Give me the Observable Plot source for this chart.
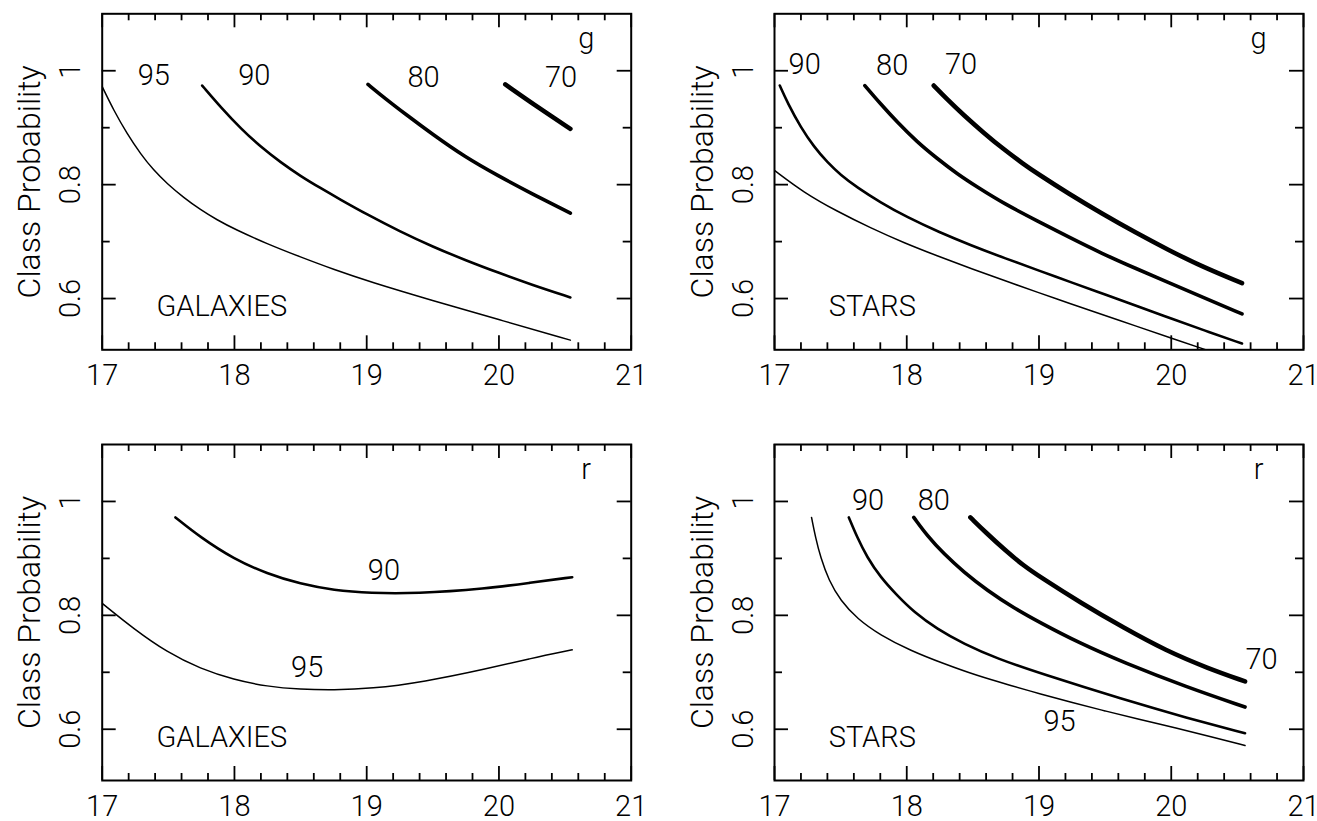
<!DOCTYPE html>
<html>
<head>
<meta charset="utf-8">
<script src="https://cdn.jsdelivr.net/npm/d3@7"></script>
<script src="https://cdn.jsdelivr.net/npm/@observablehq/plot@0.6"></script>
<style>
  html, body { margin: 0; padding: 0; background: #fff; }
  #fig { display: grid; grid-template-columns: 658px 659px; grid-template-rows: 410px 411px; width: 1317px; height: 821px; }
  #fig svg { display: block; overflow: visible; }
</style>
</head>
<body>
<div id="fig"></div>
<script>
// Class-probability threshold curves versus magnitude, one curve per completeness level.
// Each curve: [magnitude, class probability].

// g band, galaxies
const galG95 = [[17.00,0.972],[17.088,0.930],[17.189,0.889],[17.29,0.854],[17.39,0.825],[17.49,0.802],[17.617,0.777],[17.743,0.756],[17.869,0.738],[18.0,0.722],[18.247,0.696],[18.499,0.673],[18.751,0.651],[19.03,0.629],[19.49,0.597],[20.0,0.563],[20.54,0.527]];
const galG90 = [[17.756,0.974],[17.9,0.935],[18.05,0.898],[18.2,0.866],[18.35,0.839],[18.5,0.815],[18.65,0.794],[18.8,0.774],[19.0,0.748],[19.25,0.718],[19.5,0.691],[19.75,0.667],[20.0,0.645],[20.25,0.624],[20.54,0.602]];
const galG80 = [[19.01,0.976],[19.141,0.951],[19.292,0.924],[19.494,0.889],[19.746,0.848],[19.998,0.815],[20.25,0.784],[20.54,0.750]];
const galG70 = [[20.048,0.976],[20.30,0.935],[20.54,0.898]];

// g band, stars
const starG95 = [[17.0,0.825],[17.222,0.786],[17.474,0.753],[17.726,0.724],[17.978,0.698],[18.23,0.675],[18.481,0.653],[18.733,0.632],[18.99,0.611],[19.225,0.592],[19.477,0.572],[19.729,0.552],[19.981,0.532],[20.30,0.507]];
const starG90 = [[17.04,0.974],[17.1,0.943],[17.2,0.900],[17.3,0.866],[17.4,0.839],[17.5,0.817],[17.625,0.795],[17.8,0.769],[18.0,0.743],[18.25,0.716],[18.48,0.694],[18.75,0.670],[19.0,0.649],[19.25,0.628],[19.5,0.607],[19.75,0.586],[20.0,0.565],[20.25,0.544],[20.535,0.521]];
const starG80 = [[17.683,0.974],[17.801,0.942],[17.927,0.910],[18.078,0.875],[18.229,0.846],[18.381,0.819],[18.532,0.796],[18.733,0.767],[18.99,0.736],[19.225,0.708],[19.477,0.679],[19.729,0.653],[19.981,0.628],[20.233,0.603],[20.535,0.573]];
const starG70 = [[18.204,0.974],[18.305,0.950],[18.431,0.922],[18.582,0.891],[18.733,0.862],[18.884,0.836],[18.99,0.819],[19.225,0.784],[19.477,0.749],[19.729,0.716],[19.981,0.685],[20.233,0.656],[20.535,0.627]];

// r band, galaxies
const galR95 = [[17.0,0.821],[17.239,0.776],[17.491,0.735],[17.743,0.706],[17.995,0.687],[18.247,0.675],[18.499,0.670],[18.751,0.669],[19.03,0.671],[19.43,0.683],[19.91,0.706],[20.23,0.724],[20.554,0.7395]];
const galR90 = [[17.554,0.972],[17.743,0.937],[17.995,0.899],[18.247,0.873],[18.499,0.855],[18.751,0.844],[19.03,0.839],[19.365,0.838],[19.91,0.847],[20.23,0.857],[20.554,0.867]];

// r band, stars
const starR95 = [[17.28,0.972],[17.31,0.937],[17.348,0.902],[17.411,0.861],[17.499,0.826],[17.625,0.794],[17.801,0.765],[18.028,0.738],[18.28,0.715],[18.532,0.694],[18.784,0.677],[19.01,0.662],[19.25,0.647],[19.5,0.632],[19.75,0.618],[20.04,0.602],[20.3,0.587],[20.558,0.5715]];
const starR90 = [[17.562,0.972],[17.625,0.937],[17.70,0.902],[17.801,0.867],[17.927,0.835],[18.053,0.806],[18.229,0.776],[18.431,0.750],[18.683,0.724],[19.01,0.698],[19.641,0.652],[20.118,0.620],[20.558,0.593]];
const starR80 = [[18.053,0.972],[18.154,0.94],[18.28,0.908],[18.431,0.876],[18.607,0.844],[18.809,0.813],[19.01,0.787],[19.3,0.752],[19.641,0.717],[20.118,0.674],[20.558,0.639]];
const starR70 = [[18.481,0.972],[18.6,0.945],[18.75,0.913],[18.88,0.888],[19.004,0.868],[19.322,0.821],[19.641,0.778],[19.959,0.738],[20.277,0.707],[20.558,0.684]];

// Curve annotations (percent levels) in data coordinates
const galGLabels = [{text: "95", x: 17.39, y: 0.991}, {text: "90", x: 18.15, y: 0.991}, {text: "80", x: 19.43, y: 0.987}, {text: "70", x: 20.47, y: 0.987}];
const starGLabels = [{text: "90", x: 17.228, y: 1.011}, {text: "80", x: 17.89, y: 1.008}, {text: "70", x: 18.41, y: 1.011}];
const galRLabels = [{text: "90", x: 19.13, y: 0.879}, {text: "95", x: 18.55, y: 0.708}];
const starRLabels = [{text: "90", x: 17.707, y: 1.002}, {text: "80", x: 18.205, y: 1.002}, {text: "70", x: 20.683, y: 0.722}, {text: "95", x: 19.155, y: 0.614}];

// Axis ticks
const xMajor = [17, 18, 19, 20, 21];
const xMinor = [17.2, 17.4, 17.6, 17.8, 18.2, 18.4, 18.6, 18.8, 19.2, 19.4, 19.6, 19.8, 20.2, 20.4, 20.6, 20.8];
const yMajor = [0.6, 0.8, 1.0];
const yMinor = [0.7, 0.9];
const yLabels = ["0.6", "0.8", "1"];

const levelWidth = {95: 1.5, 90: 2.6, 80: 3.6, 70: 4.6};
const FONT = "Roboto, 'Liberation Sans', sans-serif";

const panels = [
  {band: "g", sample: "GALAXIES", curves: [[galG95, 95], [galG90, 90], [galG80, 80], [galG70, 70]], labels: galGLabels},
  {band: "g", sample: "STARS", curves: [[starG95, 95], [starG90, 90], [starG80, 80], [starG70, 70]], labels: starGLabels},
  {band: "r", sample: "GALAXIES", curves: [[galR95, 95], [galR90, 90]], labels: galRLabels},
  {band: "r", sample: "STARS", curves: [[starR95, 95], [starR90, 90], [starR80, 80], [starR70, 70]], labels: starRLabels}
];

function panel(cfg, col, row) {
  const width = col === 0 ? 658 : 659;
  const height = row === 0 ? 410 : 411;
  const innerW = 529, innerH = 336;
  const marginLeft = col === 0 ? 101.7 : 116;
  const marginRight = width - marginLeft - innerW;
  const marginTop = row === 0 ? 13.3 : 34;
  const marginBottom = height - marginTop - innerH;
  const tickStyle = {stroke: "black", strokeWidth: 1.8};
  const textStyle = {fontFamily: FONT, fontWeight: 300, fill: "black"};

  const marks = [];
  // curves
  for (const [pts, level] of cfg.curves) {
    marks.push(Plot.line(pts, {
      x: d => d[0], y: d => d[1], curve: "basis",
      stroke: "black", strokeWidth: levelWidth[level], strokeLinecap: "round", clip: true
    }));
  }
  // inward ticks on all four sides
  marks.push(
    Plot.tickX(xMajor, {x: d => d, insetBottom: innerH - 14, ...tickStyle}),
    Plot.tickX(xMajor, {x: d => d, insetTop: innerH - 14, ...tickStyle}),
    Plot.tickX(xMinor, {x: d => d, insetBottom: innerH - 7, ...tickStyle}),
    Plot.tickX(xMinor, {x: d => d, insetTop: innerH - 7, ...tickStyle}),
    Plot.tickY(yMajor, {y: d => d, insetRight: innerW - 14, ...tickStyle}),
    Plot.tickY(yMajor, {y: d => d, insetLeft: innerW - 14, ...tickStyle}),
    Plot.tickY(yMinor, {y: d => d, insetRight: innerW - 8, ...tickStyle}),
    Plot.tickY(yMinor, {y: d => d, insetLeft: innerW - 8, ...tickStyle}),
    Plot.frame({stroke: "black", strokeWidth: 2})
  );
  // tick labels and axis title
  marks.push(
    Plot.text(xMajor, {x: d => d, text: d => String(d), frameAnchor: "bottom", lineAnchor: "top", dy: 15, fontSize: 29, ...textStyle}),
    Plot.text(yLabels, {y: d => +d, text: d => d, frameAnchor: "left", rotate: -90, textAnchor: "middle", lineAnchor: "bottom", dx: -22, fontSize: 29, ...textStyle}),
    Plot.text(["Class Probability"], {text: d => d, frameAnchor: "left", rotate: -90, textAnchor: "middle", lineAnchor: "bottom", dx: -62, fontSize: 32, ...textStyle})
  );
  // annotations
  marks.push(
    Plot.text(cfg.labels, {x: "x", y: "y", text: "text", lineAnchor: "middle", fontSize: 29, ...textStyle}),
    Plot.text([{text: cfg.band, x: 20.66, y: 1.04}], {x: "x", y: "y", text: "text", lineAnchor: "bottom", fontSize: 29, ...textStyle}),
    Plot.text([{text: cfg.sample, x: 17.41, y: 0.585}], {x: "x", y: "y", text: "text", textAnchor: "start", lineAnchor: "middle", fontSize: 29, ...textStyle})
  );

  return Plot.plot({
    width, height, marginLeft, marginRight, marginTop, marginBottom,
    x: {domain: [17, 21], axis: null},
    y: {domain: [0.51, 1.1], axis: null},
    style: {background: "white", fontFamily: FONT, overflow: "visible"},
    marks
  });
}

const fig = document.getElementById("fig");
panels.forEach((cfg, i) => fig.appendChild(panel(cfg, i % 2, Math.floor(i / 2))));
</script>
</body>
</html>
